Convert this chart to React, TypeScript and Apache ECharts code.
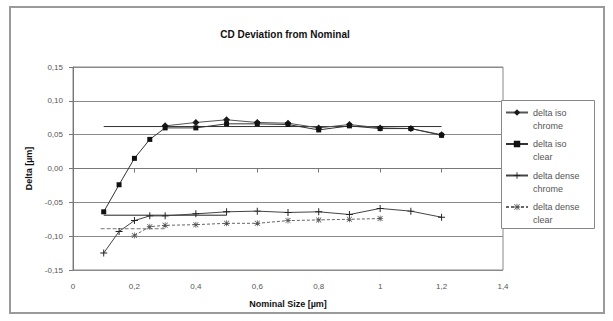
import React, { useEffect, useRef } from "react";
import * as echarts from "echarts";

const chartTitle = "CD Deviation from Nominal";
const xAxisName = "Nominal Size [µm]";
const yAxisName = "Delta [µm]";

const seriesNames = ["delta iso chrome", "delta iso clear", "delta dense chrome", "delta dense clear"];
const legendLabels = ["delta iso\nchrome", "delta iso\nclear", "delta dense\nchrome", "delta dense\nclear"];

const xIsoChrome = [0.3, 0.4, 0.5, 0.6, 0.7, 0.8, 0.9, 1.0, 1.1, 1.2];
const yIsoChrome = [0.063, 0.068, 0.072, 0.068, 0.067, 0.060, 0.065, 0.060, 0.059, 0.050];

const xIsoClear = [0.1, 0.15, 0.2, 0.25, 0.3, 0.4, 0.5, 0.6, 0.7, 0.8, 0.9, 1.0, 1.1, 1.2];
const yIsoClear = [-0.064, -0.024, 0.015, 0.043, 0.060, 0.060, 0.066, 0.066, 0.065, 0.057, 0.063, 0.059, 0.059, 0.049];

const xDenseChrome = [0.1, 0.15, 0.2, 0.25, 0.3, 0.4, 0.5, 0.6, 0.7, 0.8, 0.9, 1.0, 1.1, 1.2];
const yDenseChrome = [-0.125, -0.093, -0.077, -0.070, -0.070, -0.067, -0.064, -0.063, -0.065, -0.064, -0.068, -0.059, -0.063, -0.072];

const xDenseClear = [0.2, 0.25, 0.3, 0.4, 0.5, 0.6, 0.7, 0.8, 0.9, 1.0];
const yDenseClear = [-0.099, -0.086, -0.084, -0.083, -0.081, -0.081, -0.077, -0.076, -0.075, -0.074];

// horizontal reference levels (not in legend)
const xRefIso = [0.1, 1.2];
const yRefIso = [0.062, 0.062];
const xRefDenseChrome = [0.1, 0.5];
const yRefDenseChrome = [-0.069, -0.069];
const xRefDenseClear = [0.09, 0.3];
const yRefDenseClear = [-0.089, -0.089];

const zip = (xs: number[], ys: number[]) => xs.map((x, i) => [x, ys[i]]);

const PLUS = "path://M4.3,0H5.7V4.3H10V5.7H5.7V10H4.3V5.7H0V4.3H4.3Z";
const STAR =
  "path://M4.4,0H5.6V4.4H10V5.6H5.6V10H4.4V5.6H0V4.4H4.4Z M1.2,0.4L5,4.2L8.8,0.4L9.6,1.2L5.8,5L9.6,8.8L8.8,9.6L5,5.8L1.2,9.6L0.4,8.8L4.2,5L0.4,1.2Z";

const FONT = "'Liberation Sans', Arial, sans-serif";

export default function App() {
  const ref = useRef<HTMLDivElement>(null);
  useEffect(() => {
    if (!ref.current) return;
    const chart = echarts.init(ref.current, null, { renderer: "svg" });
    const fmt = (v: number, d: number) => {
      const s = Math.abs(v) < 1e-9 ? (0).toFixed(d) : v.toFixed(d);
      return s.replace(".", ",");
    };
    const refLine = (xs: number[], ys: number[], color: string, type: any) => ({
      type: "line",
      data: zip(xs, ys),
      symbol: "none",
      silent: true,
      legendHoverLink: false,
      lineStyle: { color, width: 1, type },
      z: 1,
    });
    chart.setOption({
      animation: false,
      backgroundColor: "#ffffff",
      textStyle: { fontFamily: FONT },
      title: {
        text: chartTitle,
        left: 280,
        top: 24,
        textAlign: "center",
        textStyle: { fontFamily: FONT, fontSize: 10, fontWeight: "bold", color: "#111" },
      },
      graphic: [
        {
          type: "rect",
          shape: { x: 10, y: 7, width: 594, height: 306 },
          style: { fill: "none", stroke: "#9a9a9a", lineWidth: 2 },
          silent: true,
          z: -1,
        },
        {
          type: "rect",
          shape: { x: 501.5, y: 100.5, width: 93, height: 128 },
          style: { fill: "#fff", stroke: "#888", lineWidth: 1 },
          silent: true,
          z: 10,
        },
      ],
      grid: {
        left: 73,
        right: 110,
        top: 67,
        bottom: 51,
        show: true,
        borderColor: "#888",
        borderWidth: 1,
        backgroundColor: "#fff",
      },
      legend: {
        orient: "vertical",
        left: 505,
        top: 93,
        padding: 0,
        itemGap: -7.5,
        itemWidth: 22,
        itemHeight: 8,
        z: 20,
        data: seriesNames,
        formatter: (name: string) => "\n" + legendLabels[seriesNames.indexOf(name)],
        textStyle: { fontFamily: FONT, fontSize: 9, color: "#555", lineHeight: 13 },
      },
      xAxis: {
        type: "value",
        min: 0,
        max: 1.4,
        interval: 0.2,
        name: xAxisName,
        nameLocation: "middle",
        nameGap: 29,
        nameTextStyle: { fontFamily: FONT, fontSize: 9, fontWeight: "bold", color: "#111" },
        axisLine: { lineStyle: { color: "#777", width: 1 } },
        axisTick: { show: true, length: 4, lineStyle: { color: "#777" } },
        axisLabel: {
          fontFamily: FONT,
          fontSize: 8,
          color: "#555",
          margin: 12,
          formatter: (v: number) => String(+v.toFixed(1)).replace(".", ","),
        },
        splitLine: { show: false },
      },
      yAxis: {
        type: "value",
        min: -0.15,
        max: 0.15,
        interval: 0.05,
        name: yAxisName,
        nameLocation: "middle",
        nameGap: 36,
        nameRotate: 90,
        nameTextStyle: { fontFamily: FONT, fontSize: 9, fontWeight: "bold", color: "#111" },
        axisLine: { show: true, lineStyle: { color: "#777", width: 1 } },
        axisTick: { show: true, length: 4, lineStyle: { color: "#777" } },
        axisLabel: { fontFamily: FONT, fontSize: 8, color: "#555", margin: 10, formatter: (v: number) => fmt(v, 2) },
        splitLine: { show: true, lineStyle: { color: "#8a8a8a", width: 1 } },
      },
      series: [
        {
          name: seriesNames[0],
          type: "line",
          data: zip(xIsoChrome, yIsoChrome),
          symbol: "diamond",
          symbolSize: 7,
          itemStyle: { color: "#1a1a1a" },
          lineStyle: { color: "#555", width: 1 },
          z: 3,
        },
        {
          name: seriesNames[1],
          type: "line",
          data: zip(xIsoClear, yIsoClear),
          symbol: "rect",
          symbolSize: 5,
          itemStyle: { color: "#111" },
          lineStyle: { color: "#333", width: 1 },
          z: 4,
        },
        {
          name: seriesNames[2],
          type: "line",
          data: zip(xDenseChrome, yDenseChrome),
          symbol: PLUS,
          symbolSize: 7,
          itemStyle: { color: "#222" },
          lineStyle: { color: "#444", width: 1 },
          z: 3,
        },
        {
          name: seriesNames[3],
          type: "line",
          data: zip(xDenseClear, yDenseClear),
          symbol: STAR,
          symbolSize: 6,
          itemStyle: { color: "#555" },
          lineStyle: { color: "#666", width: 1, type: [3, 2] },
          z: 3,
        },
        refLine(xRefIso, yRefIso, "#333", "solid"),
        refLine(xRefDenseChrome, yRefDenseChrome, "#222", "solid"),
        refLine(xRefDenseClear, yRefDenseClear, "#777", [4, 2]),
      ],
    });
    return () => chart.dispose();
  }, []);
  return (
    <div
      ref={ref}
      style={{ position: "fixed", left: 0, top: 0, width: 613, height: 321, background: "#fff" }}
    />
  );
}
